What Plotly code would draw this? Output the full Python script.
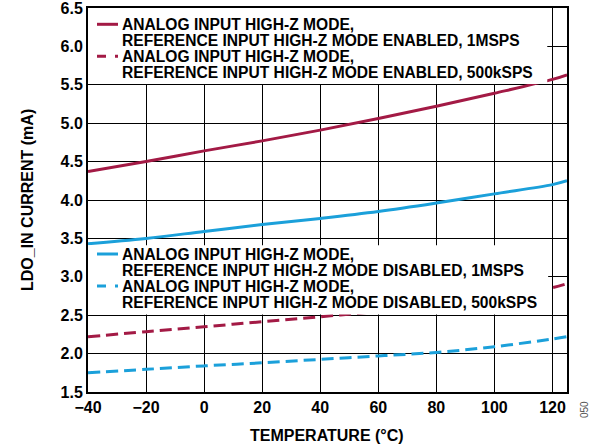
import plotly.graph_objects as go

# temperature (°C) and LDO_IN current (mA)
temperature = [-40, -20, 0, 20, 40, 60, 80, 100, 120, 125]
enabled_1msps = [4.37, 4.50, 4.64, 4.77, 4.91, 5.06, 5.22, 5.39, 5.57, 5.63]
enabled_500ksps = [2.22, 2.285, 2.35, 2.415, 2.48, 2.55, 2.63, 2.73, 2.86, 2.91]
disabled_1msps = [3.43, 3.50, 3.59, 3.68, 3.76, 3.85, 3.96, 4.08, 4.20, 4.25]
disabled_500ksps = [1.75, 1.795, 1.84, 1.88, 1.925, 1.97, 2.015, 2.09, 2.19, 2.22]

x_ticks = [-40, -20, 0, 20, 40, 60, 80, 100, 120]
y_ticks = [1.5, 2.0, 2.5, 3.0, 3.5, 4.0, 4.5, 5.0, 5.5, 6.0, 6.5]

legend_top = [
    "ANALOG INPUT HIGH-Z MODE,",
    "REFERENCE INPUT HIGH-Z MODE ENABLED, 1MSPS",
    "ANALOG INPUT HIGH-Z MODE,",
    "REFERENCE INPUT HIGH-Z MODE ENABLED, 500kSPS",
]
legend_bottom = [
    "ANALOG INPUT HIGH-Z MODE,",
    "REFERENCE INPUT HIGH-Z MODE DISABLED, 1MSPS",
    "ANALOG INPUT HIGH-Z MODE,",
    "REFERENCE INPUT HIGH-Z MODE DISABLED, 500kSPS",
]

RED = "#A31A45"
BLUE = "#1BA0DA"
DASH = "12px,6px"
FONT = "Arial, 'Liberation Sans', sans-serif"

W, H = 610, 446
L, R, T, B = 88, 43, 8, 54
PW, PH = W - L - R, H - T - B


def px(x):
    return (x - L) / PW


def py(y):
    return (H - B - y) / PH


def bold(size):
    return dict(size=size, color="black", weight="bold", family=FONT)


fig = go.Figure()
series = [
    (enabled_1msps, RED, "solid"),
    (enabled_500ksps, RED, DASH),
    (disabled_1msps, BLUE, "solid"),
    (disabled_500ksps, BLUE, DASH),
]
for values, color, dash in series:
    fig.add_trace(
        go.Scatter(
            x=temperature,
            y=values,
            mode="lines",
            line=dict(color=color, width=3, dash=dash, shape="spline"),
            showlegend=False,
        )
    )

shapes = [
    # white legend boxes, drawn over the curves
    dict(type="rect", xref="x", yref="y", x0=-40, x1=118.2, y0=5.51, y1=6.5,
         fillcolor="white", line=dict(width=0), layer="above"),
    dict(type="rect", xref="x", yref="y", x0=-40, x1=118.5, y0=2.51, y1=3.41,
         fillcolor="white", line=dict(width=0), layer="above"),
]
annotations = []
legend_specs = [
    (legend_top, [24.3, 40.3, 56.3, 72.3], [(RED, "solid"), (RED, "dash")]),
    (legend_bottom, [254, 270, 286, 302], [(BLUE, "solid"), (BLUE, "dash")]),
]
for lines, ys, samples in legend_specs:
    for text, y in zip(lines, ys):
        annotations.append(
            dict(text=text, xref="paper", yref="paper", x=px(120), y=py(y),
                 xanchor="left", yanchor="middle", showarrow=False, font=bold(15.6))
        )
    for (color, dash), y in zip(samples, [ys[0], ys[2]]):
        shapes.append(
            dict(type="line", xref="paper", yref="paper", x0=px(97), x1=px(118),
                 y0=py(y), y1=py(y), layer="above",
                 line=dict(color=color, width=3, dash=dash))
        )

annotations += [
    dict(text="TEMPERATURE (°C)", xref="paper", yref="paper", x=px(327), y=py(435),
         showarrow=False, xanchor="center", yanchor="middle", font=bold(16)),
    dict(text="LDO_IN CURRENT (mA)", xref="paper", yref="paper", x=px(27), y=py(200),
         showarrow=False, textangle=-90, xanchor="center", yanchor="middle", font=bold(16)),
    dict(text="050", xref="paper", yref="paper", x=px(592), y=py(420),
         showarrow=False, textangle=-90, font=dict(size=10, color="#555", family=FONT)),
]

axis_common = dict(
    showline=True, linecolor="black", linewidth=2, mirror=True,
    showgrid=True, gridcolor="black", gridwidth=1.3, zeroline=False,
    ticks="", tickfont=bold(16), automargin=False, ticklabeloverflow="allow",
)
fig.update_xaxes(range=[-40, 125], tickvals=x_ticks, **axis_common)
fig.update_yaxes(range=[1.5, 6.5], tickvals=y_ticks, tickformat=".1f", **axis_common)
fig.update_layout(
    width=W, height=H,
    margin=dict(l=L, r=R, t=T, b=B),
    paper_bgcolor="white", plot_bgcolor="white",
    shapes=shapes, annotations=annotations,
    font=dict(family=FONT),
)
# the page's default 8px body margin would shift the whole chart
fig.write_html(
    "out.html",
    config={"displayModeBar": False},
    post_script="document.body.style.margin = '0';",
)
